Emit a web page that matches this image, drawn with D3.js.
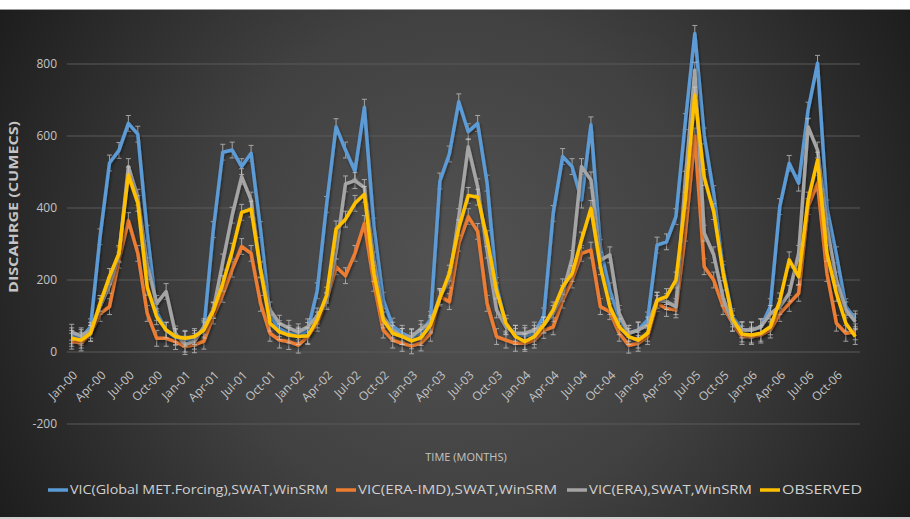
<!DOCTYPE html>
<html>
<head>
<meta charset="utf-8">
<script src="https://cdn.jsdelivr.net/npm/d3@7"></script>
<style>
  html, body { margin: 0; padding: 0; background: #fff; }
  svg { display: block; }
</style>
</head>
<body>
<div id="chart"></div>
<script>
// monthly categories Jan-00 .. Dec-06
const monthNames = ["Jan","Feb","Mar","Apr","May","Jun","Jul","Aug","Sep","Oct","Nov","Dec"];
const years = ["00","01","02","03","04","05","06"];
const months = years.flatMap(y => monthNames.map(m => m + "-" + y));

const yTicks = [-200, 0, 200, 400, 600, 800];

const vicGlobal = [
  45, 40, 70, 320, 525, 560, 635, 605, 330, 110, 60, 40,
  35, 38, 65, 340, 555, 561, 515, 552, 340, 100, 65, 52,
  47, 60, 170, 410, 626, 561, 502, 680, 350, 144, 72, 52,
  40, 55, 90, 475, 550, 695, 612, 635, 469, 185, 72, 52,
  45, 52, 100, 385, 543, 515, 422, 631, 290, 170, 95, 52,
  61, 89, 297, 306, 376, 640, 885, 600, 440, 230, 98, 62,
  61, 70, 126, 404, 524, 469, 672, 802, 400, 270, 126, 92
];
const vicEraImd = [
  30, 25, 52, 107, 126, 255, 365, 274, 107, 38, 38, 29,
  15, 20, 30, 100, 160, 230, 293, 274, 135, 52, 33, 29,
  19, 43, 80, 144, 237, 212, 274, 357, 191, 61, 33, 24,
  17, 25, 52, 154, 140, 302, 376, 335, 135, 43, 33, 24,
  24, 33, 60, 70, 144, 200, 274, 283, 126, 112, 52, 19,
  24, 43, 135, 121, 117, 330, 600, 237, 200, 126, 80, 43,
  43, 47, 61, 107, 135, 163, 404, 469, 218, 80, 52, 56
];
const vicEra = [
  55, 45, 60, 126, 185, 270, 515, 430, 240, 135, 168, 50,
  22, 30, 70, 117, 250, 380, 487, 422, 230, 117, 80, 66,
  56, 70, 100, 140, 280, 467, 476, 457, 256, 98, 61, 43,
  43, 65, 80, 154, 200, 376, 570, 459, 283, 117, 70, 52,
  52, 61, 75, 107, 163, 260, 515, 478, 255, 270, 107, 52,
  61, 75, 144, 140, 126, 480, 783, 330, 270, 150, 80, 61,
  61, 70, 107, 126, 163, 274, 626, 561, 348, 200, 117, 84
];
const observed = [
  38, 33, 52, 135, 210, 274, 492, 413, 180, 98, 61, 43,
  38, 43, 61, 115, 190, 280, 388, 397, 228, 80, 56, 47,
  43, 45, 89, 158, 342, 369, 413, 438, 218, 89, 52, 43,
  31, 40, 75, 150, 219, 345, 435, 430, 315, 170, 80, 43,
  29, 43, 75, 117, 181, 218, 311, 399, 237, 126, 70, 43,
  33, 52, 144, 154, 200, 422, 714, 485, 390, 220, 92, 50,
  47, 52, 70, 142, 256, 209, 422, 533, 274, 163, 80, 43
];
const errorSize = 22;

const seriesNames = ["VIC(Global MET.Forcing),SWAT,WinSRM", "VIC(ERA-IMD),SWAT,WinSRM", "VIC(ERA),SWAT,WinSRM", "OBSERVED"];
const seriesValues = [vicGlobal, vicEraImd, vicEra, observed];
const seriesColors = ["#5B9BD5", "#ED7D31", "#A5A5A5", "#FFC000"];

const W = 910, H = 519;
const margin = {top: 64, right: 50, bottom: 95, left: 67};

const svg = d3.select("#chart").append("svg")
    .attr("width", W)
    .attr("height", H);

const defs = svg.append("defs");
const grad = defs.append("radialGradient")
    .attr("id", "bg")
    .attr("gradientUnits", "userSpaceOnUse")
    .attr("cx", 455).attr("cy", 265).attr("r", 560);
grad.append("stop").attr("offset", "0").attr("stop-color", "#535353");
grad.append("stop").attr("offset", "0.45").attr("stop-color", "#414141");
grad.append("stop").attr("offset", "1").attr("stop-color", "#181818");

const shadow = defs.append("filter").attr("id", "shadow")
    .attr("x", "-5%").attr("y", "-5%").attr("width", "110%").attr("height", "110%");
shadow.append("feDropShadow")
    .attr("dx", 1).attr("dy", 2).attr("stdDeviation", 1.5)
    .attr("flood-color", "#000").attr("flood-opacity", 0.45);

// background
svg.append("rect").attr("width", W).attr("height", H).attr("fill", "url(#bg)");
svg.append("rect").attr("width", W).attr("height", 9).attr("fill", "#ffffff");
svg.append("line").attr("x1", 0).attr("x2", W).attr("y1", 9.5).attr("y2", 9.5)
    .attr("stroke", "#9a9a9a").attr("stroke-width", 1);
svg.append("rect").attr("y", H - 2).attr("width", W).attr("height", 2).attr("fill", "#cfcfcf");

// scales
const x = d3.scalePoint()
    .domain(months)
    .range([margin.left, W - margin.right])
    .padding(0.5);

const y = d3.scaleLinear()
    .domain([-200, 800])
    .range([424, margin.top]);

// gridlines
svg.append("g")
    .attr("class", "grid")
    .selectAll("line")
    .data(yTicks)
    .join("line")
      .attr("x1", margin.left)
      .attr("x2", W - margin.right)
      .attr("y1", d => y(d))
      .attr("y2", d => y(d))
      .attr("stroke", "#5a5a5a")
      .attr("stroke-width", 1);

// y axis labels
const yAxis = svg.append("g")
    .attr("transform", "translate(" + (margin.left - 10) + ",0)")
    .call(d3.axisLeft(y).tickValues(yTicks).tickFormat(d => String(d)).tickSize(0).tickPadding(0));
yAxis.select(".domain").remove();
yAxis.selectAll("text")
    .attr("fill", "#c4c4c4")
    .style("font-family", "'Open Sans', sans-serif")
    .style("font-size", "12px");

// x axis labels every 3 months
const xAxis = svg.append("g")
    .attr("transform", "translate(0," + y(0) + ")")
    .call(d3.axisBottom(x).tickValues(months.filter((d, i) => i % 3 === 0)).tickSize(0));
xAxis.select(".domain").remove();
xAxis.selectAll("text")
    .attr("fill", "#c4c4c4")
    .style("font-family", "'Open Sans', sans-serif")
    .style("font-size", "12px")
    .attr("text-anchor", "end")
    .attr("dy", "0.35em")
    .attr("transform", "translate(3,21) rotate(-45)")
    .attr("y", 0);

// axis titles
svg.append("text")
    .attr("transform", "translate(18,207) rotate(-90)")
    .attr("text-anchor", "middle")
    .attr("fill", "#c4c4c4")
    .attr("textLength", 172)
    .attr("lengthAdjust", "spacingAndGlyphs")
    .style("font-family", "'Open Sans', sans-serif")
    .style("font-size", "11.5px")
    .style("font-weight", "bold")
    .text("DISCAHRGE (CUMECS)");

svg.append("text")
    .attr("x", 466)
    .attr("y", 461)
    .attr("text-anchor", "middle")
    .attr("fill", "#c4c4c4")
    .style("font-family", "'Open Sans', sans-serif")
    .style("font-size", "11px")
    .text("TIME (MONTHS)");

// series
const line = d3.line()
    .x((d, i) => x(months[i]))
    .y(d => y(d))
    .curve(d3.curveLinear);

seriesValues.forEach((vals, s) => {
  const g = svg.append("g").attr("class", "series s" + s);

  // error bars
  const eb = g.append("g")
      .attr("stroke", "#cfcfcf")
      .attr("stroke-width", 1)
      .attr("opacity", 0.7);
  eb.selectAll("line.v")
    .data(vals)
    .join("line")
      .attr("class", "v")
      .attr("x1", (d, i) => x(months[i]))
      .attr("x2", (d, i) => x(months[i]))
      .attr("y1", d => y(d - errorSize))
      .attr("y2", d => y(d + errorSize));
  eb.selectAll("line.top")
    .data(vals)
    .join("line")
      .attr("class", "top")
      .attr("x1", (d, i) => x(months[i]) - 2.5)
      .attr("x2", (d, i) => x(months[i]) + 2.5)
      .attr("y1", d => y(d + errorSize))
      .attr("y2", d => y(d + errorSize));
  eb.selectAll("line.bot")
    .data(vals)
    .join("line")
      .attr("class", "bot")
      .attr("x1", (d, i) => x(months[i]) - 2.5)
      .attr("x2", (d, i) => x(months[i]) + 2.5)
      .attr("y1", d => y(d - errorSize))
      .attr("y2", d => y(d - errorSize));

  g.append("path")
      .datum(vals)
      .attr("fill", "none")
      .attr("stroke", seriesColors[s])
      .attr("stroke-width", 3.5)
      .attr("stroke-linejoin", "round")
      .attr("filter", "url(#shadow)")
      .attr("d", line);
});

// legend
const legendX = [48, 336, 567, 760];
const legendW = [258, 199, 163, 80];
const legend = svg.append("g").attr("class", "legend");
seriesNames.forEach((name, s) => {
  const lg = legend.append("g").attr("transform", "translate(" + legendX[s] + ",490)");
  lg.append("line")
      .attr("x1", 0).attr("x2", 20)
      .attr("stroke", seriesColors[s])
      .attr("stroke-width", 3.5);
  lg.append("text")
      .attr("x", 22)
      .attr("dy", "0.35em")
      .attr("fill", "#d0d0d0")
      .attr("textLength", legendW[s])
      .attr("lengthAdjust", "spacingAndGlyphs")
      .style("font-family", "'Open Sans', sans-serif")
      .style("font-size", "12.5px")
      .text(name);
});
</script>
</body>
</html>
